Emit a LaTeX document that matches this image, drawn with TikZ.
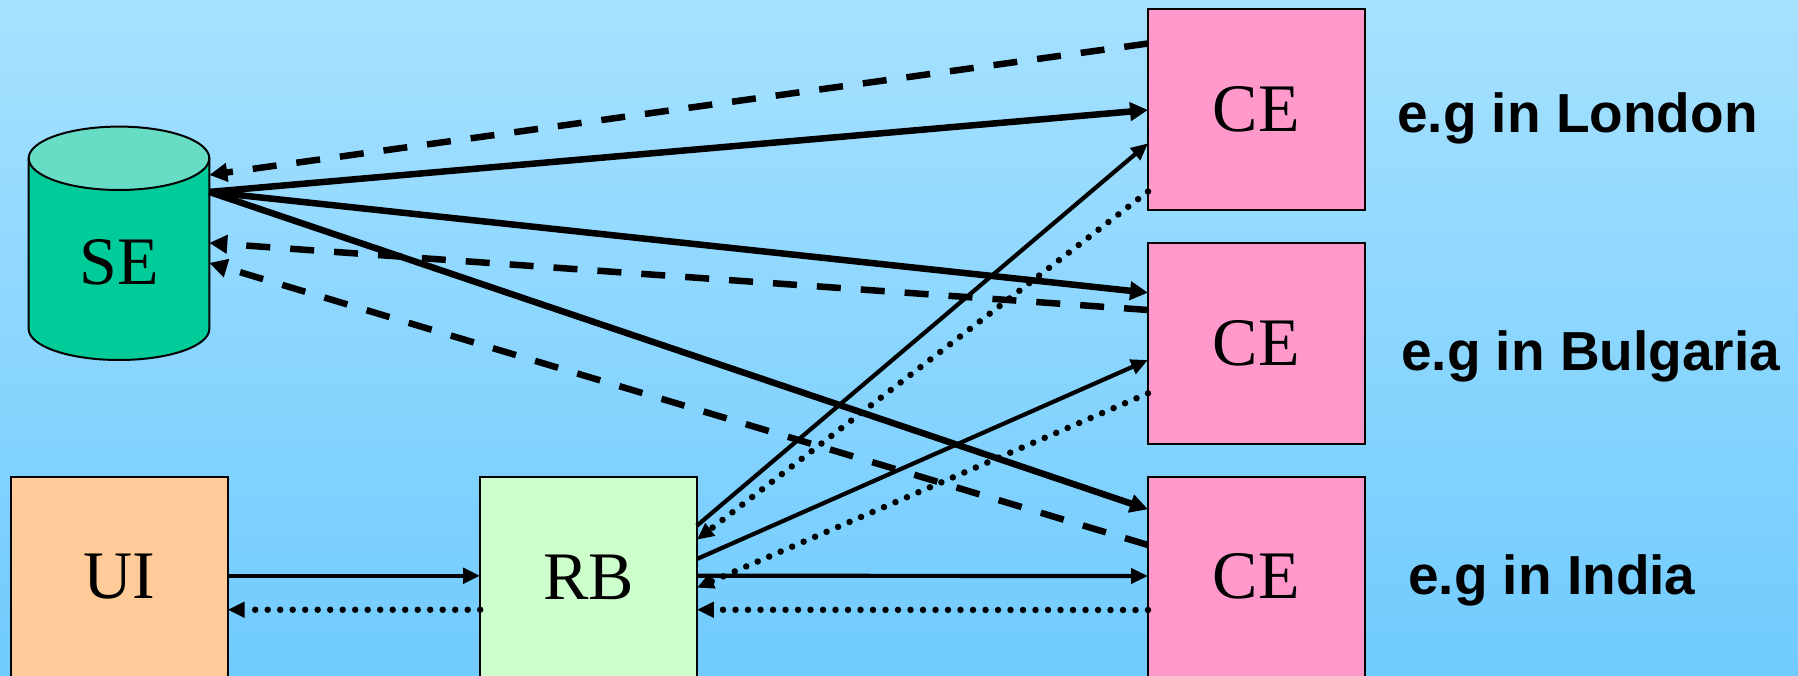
\documentclass[tikz,border=0pt]{standalone}
\usepackage{fontspec}
\setmainfont{Liberation Serif}
\newfontfamily\labelfont{Liberation Sans}
\usetikzlibrary{arrows.meta}

\definecolor{bgtop}{RGB}{166,225,255}
\definecolor{bgbot}{RGB}{112,203,254}
\definecolor{sebody}{RGB}{0,204,153}
\definecolor{setop}{RGB}{102,221,196}
\definecolor{cepink}{RGB}{255,153,204}
\definecolor{uiorange}{RGB}{255,204,153}
\definecolor{rbgreen}{RGB}{204,255,204}

\tikzset{
  box/.style={draw, line width=2pt, minimum width=216.6pt, minimum height=200.5pt,
    inner sep=0pt, outer sep=0pt, font=\fontsize{68pt}{68pt}\selectfont},
  site/.style={anchor=base west, inner sep=0pt,
    font=\labelfont\bfseries\fontsize{55pt}{55pt}\selectfont},
  heavy/.style={line width=6.5pt, -{Triangle[length=18pt,width=18pt]}},
  heavydash/.style={line width=6.5pt, dash pattern=on 24pt off 20pt,
    -{Triangle[length=18pt,width=18pt]}},
  light/.style={line width=4.2pt, -{Triangle[length=17pt,width=15pt]}},
  dots/.style={line width=6.5pt, line cap=round, dash pattern=on 0pt off 12.5pt,
    -{Triangle[length=17pt,width=15pt]}},
}

\begin{document}
\begin{tikzpicture}[x=1pt, y=-1pt]
  % page and background
  \useasboundingbox (0,0) rectangle (1798,676);
  \shade[top color=bgtop, bottom color=bgbot] (0,0) rectangle (1798,676);

  % storage element (cylinder)
  \node[inner sep=0pt, outer sep=0pt, minimum width=180.6pt, minimum height=233.3pt]
    (SE) at (119,243.3) {};
  \draw[line width=2pt, fill=sebody]
    (28.7,158.3) -- (28.7,329)
    arc[start angle=180, end angle=360, x radius=90.3pt, y radius=31pt]
    -- (209.3,158.3) -- cycle;
  \draw[line width=2pt, fill=setop] (119,158.3) ellipse [x radius=90.3pt, y radius=31.7pt];
  \node[font=\fontsize{68pt}{68pt}\selectfont, inner sep=0pt] (SEtext) at (119,262) {SE};

  % boxes
  \node[box, fill=uiorange] (UI) at (119.3,577) {UI};
  \node[box, fill=rbgreen] (RB) at (588.5,577) {RB};
  \node[box, fill=cepink] (CEl) at (1256.3,109.75) {CE};
  \node[box, fill=cepink] (CEb) at (1256.3,343.25) {CE};
  \node[box, fill=cepink] (CEi) at (1256.3,576.75) {CE};

  % site labels
  \node[site] (lonlbl) at (1397,132.3) {e.g in London};
  \node[site] (bullbl) at (1401,370) {e.g in Bulgaria};
  \node[site] (indlbl) at (1408,594) {e.g in India};

  % SE -> CE
  \draw[heavy] ([yshift=-65.3pt]SE.north east) -- ([yshift=-100.5pt]CEl.north west);
  \draw[heavy] ([yshift=-65.3pt]SE.north east) -- ([yshift=-49.7pt]CEb.north west);
  \draw[heavy] ([yshift=-65.3pt]SE.north east) -- ([yshift=-32.8pt]CEi.north west);

  % CE -> SE
  \draw[heavydash] ([yshift=-34pt]CEl.north west) -- ([yshift=-48.3pt]SE.north east);
  \draw[heavydash] ([yshift=-67pt]CEb.north west) -- ([yshift=-116.3pt]SE.north east);
  \draw[heavydash] ([yshift=-68.5pt]CEi.north west) -- ([yshift=-136.3pt]SE.north east);

  % RB -> CE
  \draw[light] ([yshift=-49pt]RB.north east) -- ([yshift=-133.8pt]CEl.north west);
  \draw[light] ([yshift=-82.3pt]RB.north east) -- ([yshift=-117pt]CEb.north west);
  \draw[light] ([yshift=-99pt]RB.north east) -- ([yshift=-99.5pt]CEi.north west);

  % CE -> RB
  \draw[dots] ([yshift=-182pt]CEl.north west) -- ([yshift=-63pt]RB.north east);
  \draw[dots] ([yshift=-150.3pt]CEb.north west) -- ([yshift=-111pt]RB.north east);
  \draw[dots] ([yshift=-133.5pt]CEi.north west) -- ([yshift=-133pt]RB.north east);

  % UI <-> RB
  \draw[light] ([yshift=-99pt]UI.north east) -- ([yshift=-99pt]RB.north west);
  \draw[dots] ([yshift=-133pt]RB.north west) -- ([yshift=-133pt]UI.north east);
\end{tikzpicture}
\end{document}
